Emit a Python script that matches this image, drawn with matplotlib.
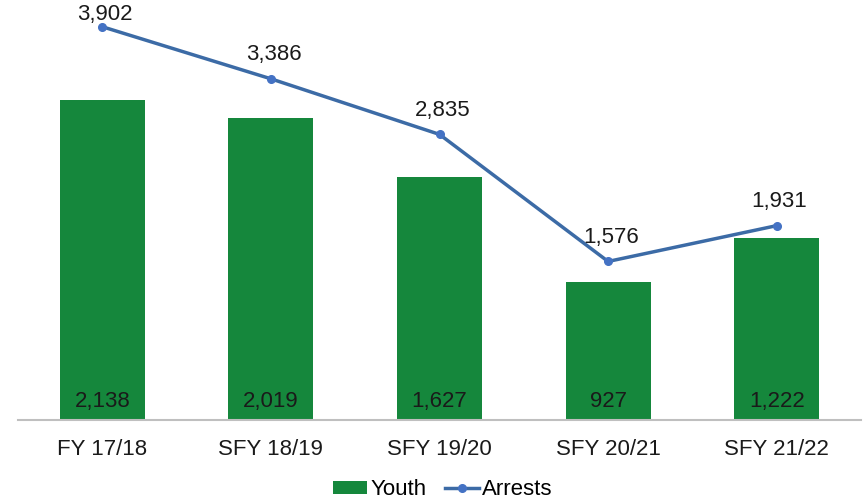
import numpy as np
import matplotlib.pyplot as plt

plt.rcParams['font.family'] = ['Liberation Sans', 'DejaVu Sans']

# data
years = ['FY 17/18', 'SFY 18/19', 'SFY 19/20', 'SFY 20/21', 'SFY 21/22']
youth = [2138, 2019, 1627, 927, 1222]
arrests = [3902, 3386, 2835, 1576, 1931]

fig = plt.figure(figsize=(8.65, 5.01), dpi=100)
ax = fig.add_axes([0.0208, 0.1607, 0.9746, 0.8393])
ax2 = ax.twinx()

x = np.arange(len(years))
ax.bar(x, youth, width=0.504, color='#15873C', label='Youth', zorder=2)
for xi, v in zip(x, youth):
    ax.text(xi, 130, f'{v:,}', ha='center', va='center', fontsize=16, color='#1a1a1a')

ax2.plot(x, arrests, color='#3C6BA6', lw=2.5, marker='o', ms=5.5,
         mfc='#4472C4', mec='#4472C4', label='Arrests', zorder=3)
for i, (xi, v) in enumerate(zip(x, arrests)):
    # first label is pushed down to stay inside the chart
    dy = 8.5 if i == 0 else 17.5
    ax2.annotate(f'{v:,}', (xi, v), xytext=(2, dy), textcoords='offset points',
                 ha='center', va='center', fontsize=16, color='#1a1a1a')

ax.set_xlim(-0.5, 4.5)
ax.set_ylim(0, 2809)
ax2.set_ylim(0, 4167)

ax.set_xticks(x)
ax.set_xticklabels(years, fontsize=16, color='#1a1a1a')
ax.tick_params(axis='x', length=0, pad=13)
ax.set_yticks([])
ax2.set_yticks([])
for s in ['top', 'left', 'right']:
    ax.spines[s].set_visible(False)
    ax2.spines[s].set_visible(False)
ax2.spines['bottom'].set_visible(False)
ax.spines['bottom'].set_color('#BFBFBF')
ax.spines['bottom'].set_linewidth(1.5)

h1, l1 = ax.get_legend_handles_labels()
h2, l2 = ax2.get_legend_handles_labels()
fig.legend(h1 + h2, l1 + l2, loc='center', bbox_to_anchor=(0.512, 0.022), ncol=2,
           frameon=False, fontsize=16, handlelength=1.55, handleheight=0.5,
           handletextpad=0.15, columnspacing=0.8, borderpad=0)

fig.savefig('out.png', dpi=100)
